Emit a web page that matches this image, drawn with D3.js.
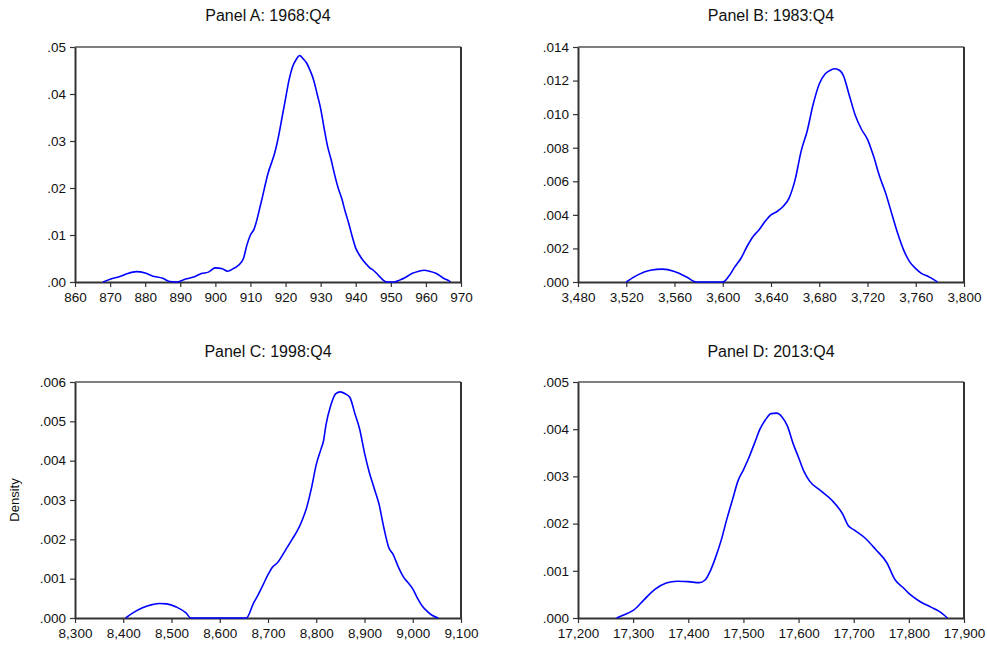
<!DOCTYPE html>
<html>
<head>
<meta charset="utf-8">
<script src="https://cdn.jsdelivr.net/npm/d3@7"></script>
<style>
  body { margin: 0; background: #fff; }
  svg { font-family: "Liberation Sans", Arial, sans-serif; }
</style>
</head>
<body>
<div id="chart"></div>
<script>
(function () {

    var w = 987;
    var h = 645;

    // panel titles
    var titles = ['Panel A: 1968:Q4', 'Panel B: 1983:Q4', 'Panel C: 1998:Q4', 'Panel D: 2013:Q4'];

    // x/y axis ranges and tick values
    var xDomains = [[860, 970], [3480, 3800], [8300, 9100], [17200, 17900]];
    var xTicks = [
        [860, 870, 880, 890, 900, 910, 920, 930, 940, 950, 960, 970],
        [3480, 3520, 3560, 3600, 3640, 3680, 3720, 3760, 3800],
        [8300, 8400, 8500, 8600, 8700, 8800, 8900, 9000, 9100],
        [17200, 17300, 17400, 17500, 17600, 17700, 17800, 17900]
    ];
    var yDomains = [[0, 0.05], [0, 0.014], [0, 0.006], [0, 0.005]];
    var yTicks = [
        [0, 0.01, 0.02, 0.03, 0.04, 0.05],
        [0, 0.002, 0.004, 0.006, 0.008, 0.010, 0.012, 0.014],
        [0, 0.001, 0.002, 0.003, 0.004, 0.005, 0.006],
        [0, 0.001, 0.002, 0.003, 0.004, 0.005]
    ];
    var yDigits = [2, 3, 3, 3];

    // density estimates: [x, density]
    var densityA = [
        [868, 0], [870, 0.0006], [873, 0.0012], [875, 0.0018], [877.5, 0.0022], [880, 0.0019],
        [882, 0.0013], [885, 0.0008], [887, 0.0001], [889, 0], [891, 0.0005], [894, 0.0011],
        [896, 0.0018], [898, 0.0021], [900, 0.003], [902, 0.0028], [903.5, 0.0023], [905, 0.0028],
        [906.5, 0.0035], [908, 0.005], [909, 0.0079], [910, 0.010], [911, 0.0112], [913, 0.0168],
        [915, 0.0231], [917, 0.0277], [918, 0.031], [919, 0.035], [920, 0.039], [921, 0.043],
        [922, 0.0458], [923, 0.0473], [924, 0.0482], [925, 0.0475], [926, 0.0466], [927, 0.045],
        [928, 0.043], [929, 0.040], [930, 0.0369], [931, 0.0327], [932, 0.0288], [933, 0.026],
        [934, 0.0228], [935, 0.020], [936, 0.0178], [937, 0.015], [938, 0.0125], [939, 0.0097],
        [940, 0.0072], [941, 0.0058], [942, 0.0047], [943, 0.0038], [944, 0.003], [945, 0.0025],
        [946, 0.0018], [947, 0.001], [948, 0.0003], [949, 0], [951, 0], [952.5, 0.0004],
        [954, 0.0009], [956, 0.0018], [958, 0.0023], [959.5, 0.0025], [961, 0.0023],
        [963, 0.0018], [965, 0.0008], [966.5, 0.0003], [967, 0]
    ];
    var densityB = [
        [3520, 0], [3530, 0.00044], [3540, 0.0007], [3550, 0.00077], [3560, 0.00063],
        [3570, 0.0003], [3578, 0], [3600, 0], [3605, 0.00034], [3610, 0.0009], [3615, 0.0014],
        [3620, 0.0021], [3625, 0.0027], [3630, 0.0031], [3635, 0.0036], [3640, 0.004],
        [3645, 0.0042], [3650, 0.0045], [3655, 0.005], [3660, 0.0061], [3665, 0.0078],
        [3670, 0.009], [3675, 0.0106], [3680, 0.0118], [3685, 0.0124], [3690, 0.01265],
        [3693, 0.0127], [3697, 0.0126], [3700, 0.0123], [3705, 0.0111], [3710, 0.0099],
        [3715, 0.0091], [3720, 0.0085], [3725, 0.0075], [3730, 0.0063], [3735, 0.0053],
        [3740, 0.0041], [3745, 0.0029], [3750, 0.0019], [3755, 0.0012], [3760, 0.0008],
        [3765, 0.0005], [3770, 0.00034], [3775, 0.00014], [3778, 0]
    ];
    var densityC = [
        [8405, 0], [8420, 0.00013], [8440, 0.00026], [8460, 0.00034], [8475, 0.00037],
        [8490, 0.00036], [8510, 0.00028], [8530, 0.00013], [8540, 0], [8655, 0],
        [8670, 0.00038], [8680, 0.0006], [8690, 0.00085], [8700, 0.0011], [8710, 0.0013],
        [8720, 0.00141], [8730, 0.0016], [8740, 0.0018], [8750, 0.002], [8760, 0.0022],
        [8770, 0.00246], [8780, 0.0028], [8790, 0.0033], [8800, 0.0039], [8810, 0.0043],
        [8815, 0.0045], [8820, 0.0049], [8830, 0.0054], [8840, 0.0057], [8850, 0.00575],
        [8860, 0.0057], [8870, 0.0056], [8880, 0.0052], [8890, 0.0048], [8900, 0.0042],
        [8910, 0.0037], [8920, 0.0033], [8930, 0.0029], [8940, 0.0023], [8950, 0.0018],
        [8960, 0.0016], [8970, 0.0013], [8980, 0.00106], [8990, 0.0009], [9000, 0.00074],
        [9010, 0.0005], [9020, 0.0003], [9030, 0.00017], [9040, 0.00007], [9053, 0]
    ];
    var densityD = [
        [17270, 0], [17290, 0.0001], [17300, 0.00016], [17320, 0.00039], [17340, 0.00061],
        [17360, 0.00074], [17380, 0.00078], [17400, 0.00077], [17420, 0.00075], [17430, 0.0008],
        [17440, 0.001], [17450, 0.0013], [17460, 0.00166], [17470, 0.0021], [17480, 0.0025],
        [17490, 0.0029], [17500, 0.00314], [17510, 0.0034], [17520, 0.0037], [17530, 0.004],
        [17540, 0.0042], [17550, 0.00433], [17560, 0.00434], [17570, 0.00426], [17580, 0.00406],
        [17590, 0.0037], [17600, 0.0034], [17610, 0.0031], [17620, 0.0029], [17640, 0.0027],
        [17660, 0.0025], [17680, 0.0022], [17690, 0.00196], [17700, 0.00187], [17720, 0.0017],
        [17740, 0.00145], [17760, 0.00117], [17775, 0.00081], [17790, 0.00064], [17800, 0.00052],
        [17820, 0.00035], [17840, 0.00023], [17855, 0.00014], [17870, 0]
    ];
    var densities = [densityA, densityB, densityC, densityD];

    // plot frames: left, top, right, bottom
    var frames = [
        [75, 47, 461, 282],
        [578, 47, 964, 282],
        [75, 382, 461, 618],
        [578, 382, 964, 618]
    ];
    var titleY = [21, 21, 357, 357];

    var svg = d3.select('#chart')
        .append('svg')
            .attr('width', w)
            .attr('height', h);

    titles.forEach(function (t, i) {
        var f = frames[i];
        var x = d3.scaleLinear().domain(xDomains[i]).range([f[0], f[2]]);
        var y = d3.scaleLinear().domain(yDomains[i]).range([f[3], f[1]]);
        var g = svg.append('g');

        g.append('text')
            .attr('x', (f[0] + f[2]) / 2)
            .attr('y', titleY[i])
            .attr('text-anchor', 'middle')
            .attr('font-size', 16)
            .attr('fill', '#111')
            .text(t);

        // frame: thin top, heavier other sides
        g.append('line')
            .attr('x1', f[0]).attr('x2', f[2]).attr('y1', f[1]).attr('y2', f[1])
            .attr('stroke', '#000').attr('stroke-width', 1.2);
        g.append('line')
            .attr('x1', f[2]).attr('x2', f[2]).attr('y1', f[1]).attr('y2', f[3])
            .attr('stroke', '#333').attr('stroke-width', 2);

        var fmt = d3.format(',');
        var xAxis = d3.axisBottom(x)
            .tickValues(xTicks[i])
            .tickSize(5)
            .tickSizeOuter(0)
            .tickFormat(fmt);
        var yAxis = d3.axisLeft(y)
            .tickValues(yTicks[i])
            .tickSize(5)
            .tickSizeOuter(0)
            .tickFormat(function (d) { return d3.format('.' + yDigits[i] + 'f')(d).replace(/^0/, ''); });

        var gx = g.append('g')
            .attr('transform', 'translate(0,' + f[3] + ')')
            .call(xAxis);
        var gy = g.append('g')
            .attr('transform', 'translate(' + f[0] + ',0)')
            .call(yAxis);

        [gx, gy].forEach(function (a) {
            a.select('.domain').attr('stroke', '#333').attr('stroke-width', 2);
            a.selectAll('.tick line').attr('stroke', '#333').attr('stroke-width', 1.2);
            a.selectAll('.tick text')
                .attr('font-size', 13.5)
                .attr('font-family', '"Liberation Sans", Arial, sans-serif')
                .attr('fill', '#111');
        });
        gx.selectAll('.tick text').attr('dy', '0.9em');
        gy.selectAll('.tick text').attr('dx', '-1px');

        var line = d3.line()
            .x(function (d) { return x(d[0]); })
            .y(function (d) { return y(d[1]); })
            .curve(d3.curveMonotoneX);

        g.append('path')
            .datum(densities[i])
            .attr('d', line)
            .attr('fill', 'none')
            .attr('stroke', '#0000ff')
            .attr('stroke-width', 1.6);
    });

    svg.append('text')
        .attr('transform', 'translate(19,500) rotate(-90)')
        .attr('text-anchor', 'middle')
        .attr('font-size', 13)
        .attr('fill', '#111')
        .text('Density');

})();
</script>
</body>
</html>
